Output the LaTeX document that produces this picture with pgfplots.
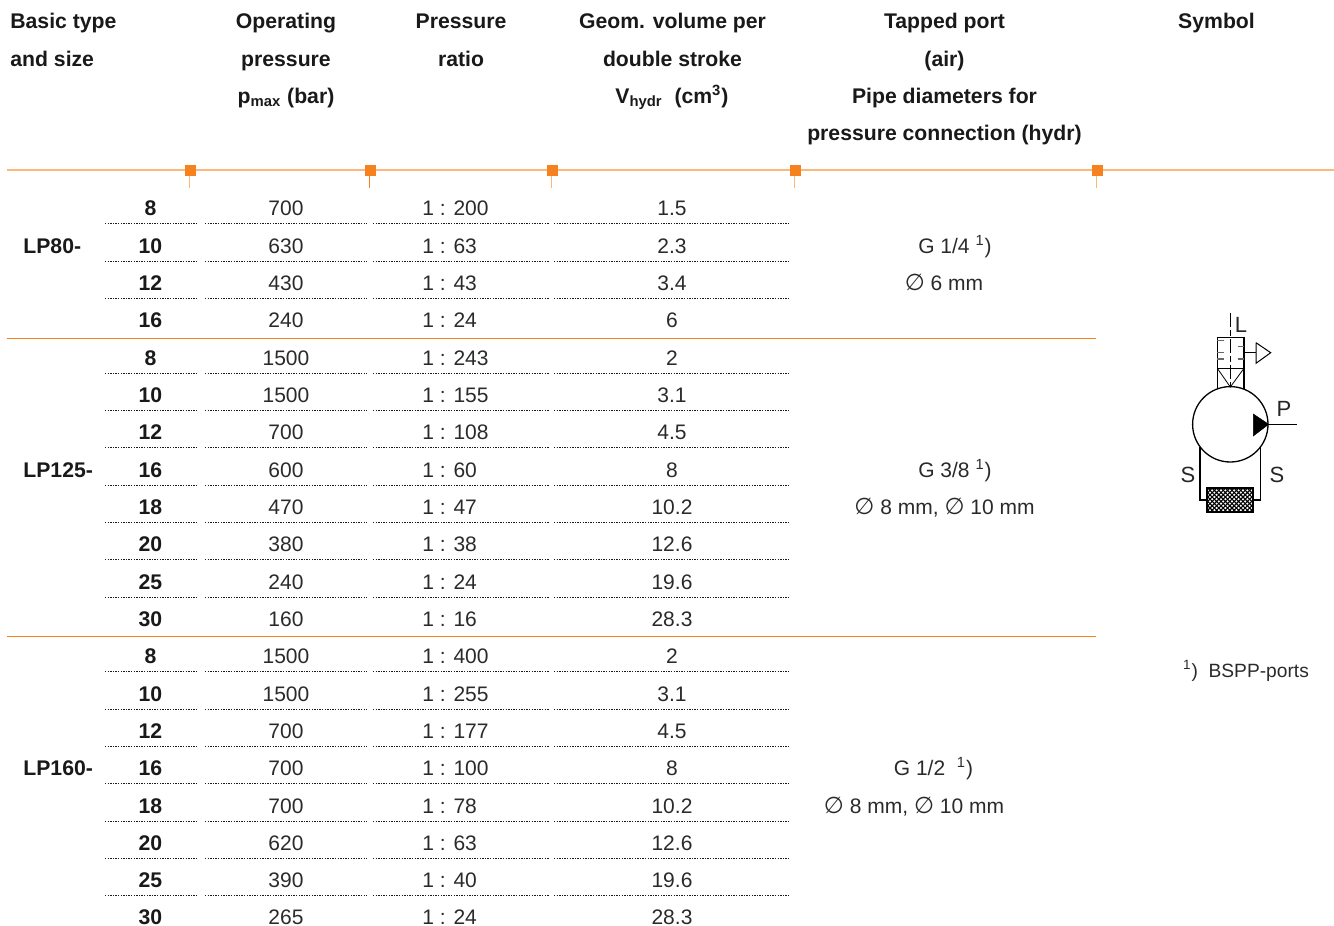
\documentclass[border=0pt]{standalone}
\usepackage{pgfplots}
\usepackage{pgfplotstable}
\usepackage{fontspec}
\pgfplotsset{compat=1.18}
\usetikzlibrary{patterns}
\setmainfont{Liberation Sans}
\newfontfamily\symfont{DejaVu Sans}

\definecolor{inktext}{HTML}{2A2A2A}
\definecolor{orangerule}{HTML}{FBB77C}
\definecolor{orangebox}{HTML}{F5821F}

% filter hatch, denser than the stock crosshatch
\pgfdeclarepatternformonly{densehatch}{\pgfqpoint{-1pt}{-1pt}}{\pgfqpoint{3pt}{3pt}}{\pgfqpoint{2.2pt}{2.2pt}}{
  \pgfsetlinewidth{0.55pt}
  \pgfpathmoveto{\pgfqpoint{0pt}{0pt}}
  \pgfpathlineto{\pgfqpoint{2.2pt}{2.2pt}}
  \pgfpathmoveto{\pgfqpoint{0pt}{2.2pt}}
  \pgfpathlineto{\pgfqpoint{2.2pt}{0pt}}
  \pgfusepath{stroke}
}

% y = baseline of the row in image pixels
\pgfplotstableread[col sep=comma]{
y,size,pmax,ratio,vol
215,8,700,1 : 200,1.5
253,10,630,1 : 63,2.3
290,12,430,1 : 43,3.4
327,16,240,1 : 24,6
365,8,1500,1 : 243,2
402,10,1500,1 : 155,3.1
439,12,700,1 : 108,4.5
477,16,600,1 : 60,8
514,18,470,1 : 47,10.2
551,20,380,1 : 38,12.6
589,25,240,1 : 24,19.6
626,30,160,1 : 16,28.3
663,8,1500,1 : 400,2
701,10,1500,1 : 255,3.1
738,12,700,1 : 177,4.5
775,16,700,1 : 100,8
813,18,700,1 : 78,10.2
850,20,620,1 : 63,12.6
887,25,390,1 : 40,19.6
924.5,30,265,1 : 24,28.3
}\rows

\newcommand{\body}{\fontsize{10.5}{12}\selectfont\color{inktext}}
\newcommand{\bodybf}{\fontsize{10.6}{12}\selectfont\bfseries\color{black!90}}
\newcommand{\dia}{{\symfont\fontsize{11.5}{12}\selectfont ∅}}

\pgfplotsset{
  column/.style={only marks, mark=none, nodes near coords, point meta=explicit symbolic,
    every node near coord/.append style={anchor=base, inner sep=0pt, font=#1}},
  dotrule/.style={black!90, line width=0.5pt, dash pattern=on 0.65pt off 0.65pt},
  sym/.style={black, line width=0.7pt, line cap=butt},
}

\begin{document}
\begin{tikzpicture}
\useasboundingbox (0,0) rectangle (667pt,463pt);
\begin{axis}[
  scale only axis, width=667pt, height=463pt,
  xmin=0, xmax=1334, ymin=0, ymax=926,
  y dir=reverse, axis lines=none, clip=false,
  nodes near coords align={center},
]
% rules
\addplot[orangerule, line width=0.8pt] coordinates {(7,170) (1334,170)};
\addplot[orangebox, line width=0.5pt] coordinates {(7,338) (1096,338)};
\addplot[orangebox, line width=0.5pt] coordinates {(7,636.8) (1096,636.8)};
\pgfplotsinvokeforeach{189.7,551.7,794.7,1096.7}{
  \addplot[orangerule, line width=0.7pt] coordinates {(#1,170) (#1,188)};
}
\addplot[orangebox, line width=0.45pt] coordinates {(369.3,170) (369.3,188)};
\addplot[only marks, mark=square*, mark size=2.5pt, orangebox, mark options={draw=orangebox, fill=orangebox, line width=0pt}]
  coordinates {(190,170) (370,170) (552,170) (795,170) (1097,170)};

\pgfplotsinvokeforeach{223,261,298,373,410,447,485,522,559,597,671,709,746,783,821,858,895}{
  \addplot[dotrule] coordinates {(105,#1) (197,#1)};
  \addplot[dotrule] coordinates {(205,#1) (367,#1)};
  \addplot[dotrule] coordinates {(373,#1) (549,#1)};
  \addplot[dotrule] coordinates {(554,#1) (790,#1)};
}

% table columns
\addplot[column=\bodybf] table[x expr=150.5, y=y, meta=size] {\rows};
\addplot[column=\body] table[x expr=286, y=y, meta=pmax] {\rows};
\addplot[column=\body, every node near coord/.append style={anchor=base west}] table[x expr=422, y=y, meta=ratio] {\rows};
\addplot[column=\body] table[x expr=672, y=y, meta=vol] {\rows};

% header
\tikzset{hd/.style={anchor=base, inner sep=0pt, font=\bodybf}, tx/.style={anchor=base, inner sep=0pt, font=\body}}
\node[hd, anchor=base west] at (axis cs:10,28) {Basic type};
\node[hd, anchor=base west] at (axis cs:10,66) {and size};
\node[hd] at (axis cs:286,28) {Operating};
\node[hd] at (axis cs:286,66) {pressure};
\node[hd] at (axis cs:286,103) {p\textsubscript{max} (bar)};
\node[hd] at (axis cs:461,28) {Pressure};
\node[hd] at (axis cs:461,66) {ratio};
\node[hd] at (axis cs:672.5,28) {Geom. volume per};
\node[hd] at (axis cs:672.5,66) {double stroke};
\node[hd] at (axis cs:672,103) {V\textsubscript{hydr}\ \ (cm\textsuperscript{3})};
\node[hd] at (axis cs:944.5,28) {Tapped port};
\node[hd] at (axis cs:944.5,66) {(air)};
\node[hd] at (axis cs:944.5,103) {Pipe diameters for};
\node[hd] at (axis cs:944.5,140) {pressure connection (hydr)};
\node[hd] at (axis cs:1216.5,28) {Symbol};

% group names
\node[hd, anchor=base west] at (axis cs:23,253) {LP80-};
\node[hd, anchor=base west] at (axis cs:23,477) {LP125-};
\node[hd, anchor=base west] at (axis cs:23,775) {LP160-};

% ports
\node[tx] at (axis cs:955,253) {G 1/4 \textsuperscript{1})};
\node[tx] at (axis cs:944,290) {\dia{} 6 mm};
\node[tx] at (axis cs:955,477) {G 3/8 \textsuperscript{1})};
\node[tx] at (axis cs:944.5,514) {\dia{} 8 mm, \dia{} 10 mm};
\node[tx] at (axis cs:933.5,775) {G 1/2\ \ \textsuperscript{1})};
\node[tx] at (axis cs:914,813) {\dia{} 8 mm, \dia{} 10 mm};
\node[tx, font=\fontsize{9.6}{12}\selectfont\color{inktext}] at (axis cs:1246,677) {\textsuperscript{1})\ \ BSPP-ports};

% pump symbol
\addplot[only marks, mark=o, mark size=18.85pt, mark options={draw=black, line width=0.65pt}] coordinates {(1230.3,424.3)};
\addplot[sym] coordinates {(1217.3,389) (1217.3,337.7) (1244,337.7) (1244,389)};
\addplot[sym, line width=0.4pt] coordinates {(1217.3,368.3) (1244,368.3)};
\addplot[sym, line width=0.4pt] coordinates {(1217.3,368.3) (1230.3,387) (1244,368.3)};
\addplot[sym, dash pattern=on 7pt off 1.5pt on 3pt off 1.5pt] coordinates {(1230.3,312.7) (1230.3,387)};
\pgfplotsinvokeforeach{340.7,352.7,359}{
  \addplot[black!60, line width=0.6pt] coordinates {(1217.3,#1) (1224,#1)};
}
\pgfplotsinvokeforeach{346.7,359}{
  \addplot[black!60, line width=0.6pt] coordinates {(1237.5,#1) (1244,#1)};
}
\addplot[sym, line width=0.5pt] coordinates {(1244,352.7) (1256,352.7)};
\addplot[sym, line width=0.5pt] coordinates {(1256,342.7) (1270.7,352.7) (1256,363.3) (1256,342.7)};
\addplot[fill=black, draw=black, line width=0.2pt] coordinates {(1253.3,414) (1268.7,424.3) (1253.3,436)} -- cycle;
\addplot[sym] coordinates {(1268,424.3) (1296.7,424.3)};
\addplot[sym] coordinates {(1200,446.7) (1200,500) (1207.3,500)};
\addplot[sym] coordinates {(1260.7,446.7) (1260.7,500) (1253.3,500)};
\addplot[draw=black, line width=0.9pt, pattern=densehatch, pattern color=black] coordinates {(1207.3,488.3) (1253.3,488.3) (1253.3,512) (1207.3,512)} -- cycle;
\tikzset{sl/.style={anchor=base, inner sep=0pt, font=\fontsize{11}{12}\selectfont\color{black!85}}}
\node[sl] at (axis cs:1241,332) {L};
\node[sl] at (axis cs:1284,416) {P};
\node[sl] at (axis cs:1188,482) {S};
\node[sl] at (axis cs:1277,482) {S};
\end{axis}
\end{tikzpicture}
\end{document}
